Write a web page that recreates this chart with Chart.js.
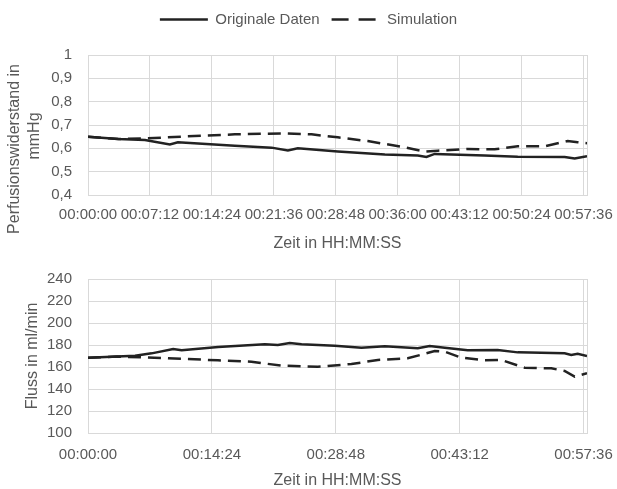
<!DOCTYPE html>
<html>
<head>
<meta charset="utf-8">
<script src="https://cdn.jsdelivr.net/npm/chart.js@4.4.1/dist/chart.umd.min.js"></script>
<style>
  html, body { margin: 0; padding: 0; background: #fff; }
  #top { position: absolute; left: 0; top: 0; width: 617px; height: 252px; }
  #bottom { position: absolute; left: 0; top: 252px; width: 617px; height: 237px; }
</style>
</head>
<body>
<div id="top"><canvas id="c1"></canvas></div>
<div id="bottom"><canvas id="c2"></canvas></div>
<script>
// time in seconds since start
const topOrigTime = [0, 211, 397, 571, 627, 1024, 1280, 1394, 1463, 1742, 2070, 2300, 2360, 2418, 2766, 2997, 3324, 3394, 3480];
const topOrig = [0.650, 0.640, 0.636, 0.617, 0.626, 0.611, 0.603, 0.591, 0.600, 0.586, 0.574, 0.569, 0.563, 0.576, 0.569, 0.564, 0.563, 0.556, 0.566];
const topSimTime = [0, 211, 418, 676, 1024, 1373, 1559, 1742, 1951, 2186, 2348, 2439, 2648, 2836, 2997, 3185, 3345, 3415, 3480];
const topSim = [0.650, 0.640, 0.643, 0.651, 0.660, 0.664, 0.660, 0.647, 0.631, 0.607, 0.586, 0.590, 0.597, 0.596, 0.609, 0.609, 0.631, 0.626, 0.622];

const botOrigTime = [0, 328, 444, 594, 653, 908, 1233, 1324, 1407, 1489, 1721, 1907, 2070, 2300, 2383, 2488, 2648, 2857, 2997, 3324, 3370, 3415, 3480];
const botOrig = [168.5, 170.3, 172.4, 176.4, 175.2, 178.2, 180.6, 180.0, 181.8, 180.6, 179.4, 177.6, 178.8, 177.0, 179.0, 177.6, 175.2, 175.5, 173.3, 172.4, 170.9, 172.0, 170.0];
const botSimTime = [0, 200, 374, 557, 906, 1140, 1349, 1603, 1837, 2021, 2230, 2418, 2488, 2604, 2766, 2882, 3045, 3231, 3324, 3394, 3480];
const botSim = [168.5, 169.5, 168.8, 167.9, 166.1, 164.8, 161.2, 160.3, 162.7, 166.4, 167.9, 174.5, 173.9, 168.5, 166.1, 166.4, 159.4, 158.8, 156.4, 151.2, 154.3];

const topXLabels = ['00:00:00', '00:07:12', '00:14:24', '00:21:36', '00:28:48', '00:36:00', '00:43:12', '00:50:24', '00:57:36'];
const botXLabels = ['00:00:00', '00:14:24', '00:28:48', '00:43:12', '00:57:36'];
const topYLabels = ['0,4', '0,5', '0,6', '0,7', '0,8', '0,9', '1'];
const botYLabels = ['100', '120', '140', '160', '180', '200', '220', '240'];
const xEnd = 3480;

const toSec = s => s.split(':').reduce((a, p) => a * 60 + Number(p), 0);
const pts = (t, v) => t.map((x, i) => ({ x: x, y: v[i] }));

Chart.defaults.font.family = '"Liberation Sans", Arial, sans-serif';
Chart.defaults.font.size = 15;
Chart.defaults.color = '#595959';

const gridCol = '#d9d9d9';
const lineCol = '#222222';

// extra room under the legend, centred on the whole canvas
const legendGap = {
  id: 'legendGap',
  beforeInit(chart) {
    const fit = chart.legend.fit;
    chart.legend.fit = function () {
      fit.bind(chart.legend)();
      this.height = 55;
    };
  },
  afterLayout(chart) {
    chart.legend.left = 0;
    chart.legend.right = chart.width;
    chart.legend.width = chart.width;
  }
};

// two-line y title of the upper chart
const sideTitle = {
  id: 'sideTitle',
  afterDraw(chart, args, opts) {
    const ctx = chart.ctx;
    ctx.save();
    ctx.fillStyle = '#595959';
    ctx.font = '16px "Liberation Sans", Arial, sans-serif';
    ctx.textAlign = 'center';
    ctx.textBaseline = 'middle';
    opts.lines.forEach((line, i) => {
      ctx.save();
      ctx.translate(opts.x[i], opts.y[i]);
      ctx.rotate(-Math.PI / 2);
      ctx.fillText(line, 0, 0);
      ctx.restore();
    });
    ctx.restore();
  }
};

function xAxis(labels, height, pad) {
  const secs = labels.map(toSec);
  return {
    type: 'linear',
    min: 0,
    max: xEnd,
    afterBuildTicks: s => { s.ticks = secs.concat([xEnd]).map(v => ({ value: v })); },
    afterFit: s => { s.height = height; },
    grid: { color: gridCol, drawTicks: false },
    border: { color: gridCol },
    ticks: {
      autoSkip: false, maxRotation: 0, minRotation: 0, padding: pad,
      callback: (v, i) => (i < labels.length ? labels[i] : '')
    },
    title: {
      display: true, text: 'Zeit in HH:MM:SS',
      font: { size: 16, lineHeight: 1 }, padding: { top: 0, bottom: 0 }
    }
  };
}

function yAxis(min, max, step, labels, title) {
  return {
    min: min, max: max,
    afterFit: s => { s.width = 88; },
    grid: { color: gridCol, drawTicks: false },
    border: { color: gridCol },
    ticks: { stepSize: step, padding: 16, callback: (v, i) => labels[i] },
    title: title
  };
}

function ds(label, t, v, dash) {
  return {
    label: label,
    data: pts(t, v),
    borderColor: lineCol,
    backgroundColor: lineCol,
    borderWidth: 2.5,
    borderDash: dash,
    pointRadius: 0,
    tension: 0
  };
}

const legendDash = [[], [17, 10]];

new Chart(document.getElementById('c1'), {
  type: 'line',
  data: {
    datasets: [
      ds('Originale Daten', topOrigTime, topOrig, []),
      ds('Simulation', topSimTime, topSim, [13, 7])
    ]
  },
  options: {
    animation: false,
    responsive: true,
    maintainAspectRatio: false,
    layout: { padding: { left: 0, right: 30, top: 0, bottom: 0 } },
    scales: {
      x: xAxis(topXLabels, 57, 11),
      y: yAxis(0.4, 1, 0.1, topYLabels, { display: false })
    },
    plugins: {
      legend: {
        display: true,
        position: 'top',
        labels: {
          usePointStyle: true, pointStyle: 'line', pointStyleWidth: 48,
          padding: 12, color: '#595959', font: { size: 15 },
          generateLabels: chart => Chart.defaults.plugins.legend.labels.generateLabels(chart).map((it, i) =>
            Object.assign(it, { lineDash: legendDash[i], lineWidth: 2.5, strokeStyle: lineCol }))
        }
      },
      tooltip: { enabled: false },
      sideTitle: { lines: ['Perfusionswiderstand in', 'mmHg'], x: [15, 35], y: [149, 136] }
    }
  },
  plugins: [legendGap, sideTitle]
});

new Chart(document.getElementById('c2'), {
  type: 'line',
  data: {
    datasets: [
      ds('Originale Daten', botOrigTime, botOrig, []),
      ds('Simulation', botSimTime, botSim, [13, 7])
    ]
  },
  options: {
    animation: false,
    responsive: true,
    maintainAspectRatio: false,
    layout: { padding: { left: 0, right: 30, top: 27, bottom: 0 } },
    scales: {
      x: xAxis(botXLabels, 56, 13),
      y: yAxis(100, 240, 20, botYLabels, {
        display: true, text: 'Fluss in ml/min',
        font: { size: 16, lineHeight: 1 }, padding: { top: 25, bottom: 0 }
      })
    },
    plugins: {
      legend: { display: false },
      tooltip: { enabled: false }
    }
  }
});
</script>
</body>
</html>
